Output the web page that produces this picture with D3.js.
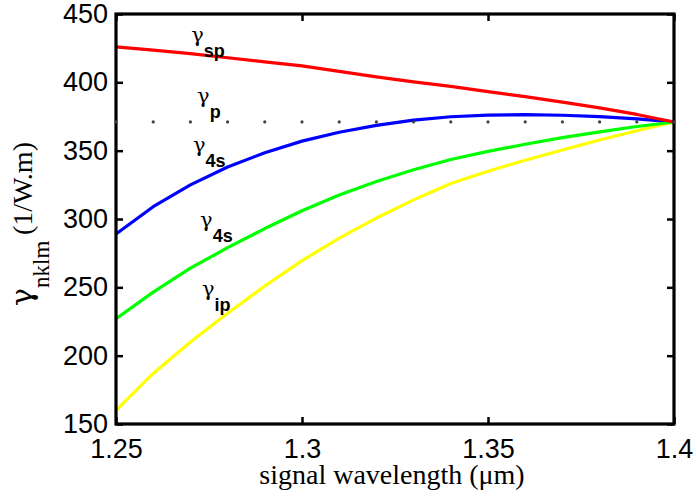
<!DOCTYPE html>
<html>
<head>
<meta charset="utf-8">
<script src="https://cdn.jsdelivr.net/npm/d3@7"></script>
<style>
  html, body { margin: 0; padding: 0; background: #fff; }
  svg { display: block; }
</style>
</head>
<body>
<svg id="chart" width="697" height="498"></svg>
<script>
// ---- data ----
const wavelengths = [1.25, 1.26, 1.27, 1.28, 1.29, 1.30, 1.31, 1.32, 1.33, 1.34, 1.35, 1.36, 1.37, 1.38, 1.39, 1.40];
const gammaSp   = [426, 423.5, 421, 418, 415, 412, 408, 404, 400.3, 397, 393.2, 389.5, 385.5, 381.3, 376.5, 371];
const gamma4sB  = [289, 309, 325, 338, 348.5, 357, 363.5, 368.5, 372.3, 374.8, 376, 376.3, 375.9, 374.9, 373.3, 371];
const gamma4sG  = [227, 246.5, 264, 279, 293, 306, 317.5, 327.5, 336, 343.5, 349.5, 354.7, 359.5, 363.8, 367.7, 371];
const gammaIp   = [160, 187, 210, 231, 251, 269.5, 286, 300.7, 314, 326, 335, 343, 350.5, 357.8, 364.6, 371];
const gammaP    = [371, 371, 371, 371, 371, 371, 371, 371, 371, 371, 371, 371, 371, 371, 371, 371];

const xTicks = [1.25, 1.3, 1.35, 1.4];
const xTickLabels = ["1.25", "1.3", "1.35", "1.4"];
const yTicks = [150, 200, 250, 300, 350, 400, 450];
const yTickLabels = ["150", "200", "250", "300", "350", "400", "450"];

const seriesNames = ["ip", "4s", "4s", "sp"];
const seriesValues = [gammaIp, gamma4sB, gamma4sG, gammaSp];
const seriesColors = ["#ffff00", "#0000ff", "#00ff00", "#ff0000"];

// curve labels: subscript text and anchor (data units)
const labelSubs = ["sp", "p", "4s", "4s", "ip"];
const labelX    = [1.2702, 1.2718, 1.2707, 1.2726, 1.2731];
const labelY    = [429.5, 384.9, 349.0, 294.1, 243.7];

const xLabel = "signal wavelength (\u03bcm)";

// ---- layout ----
const svg = d3.select("#chart");
const L = 116, R = 674, T = 14, B = 424;
const x = d3.scaleLinear().domain([1.25, 1.4]).range([L, R]);
const y = d3.scaleLinear().domain([150, 450]).range([B, T]);

const tickFont = "'Liberation Sans', Arial, Helvetica, sans-serif";
const serif = "'Liberation Serif', 'Times New Roman', Times, serif";
const greek = "'DejaVu Serif', 'Liberation Serif', serif";

// axes
function styleAxis(g) {
  g.select(".domain").remove();
  g.selectAll(".tick line").attr("stroke", "#000").attr("stroke-width", 2.5);
  g.selectAll(".tick text").attr("font-family", tickFont).attr("font-size", 27).attr("fill", "#000");
}
svg.append("g").attr("transform", `translate(0,${B})`)
  .call(d3.axisBottom(x).tickValues(xTicks).tickSize(-7).tickPadding(15)
    .tickFormat((d, i) => xTickLabels[i]))
  .call(styleAxis);
svg.append("g").attr("transform", `translate(0,${T})`)
  .call(d3.axisTop(x).tickValues(xTicks).tickSize(-7).tickFormat(""))
  .call(styleAxis);
svg.append("g").attr("transform", `translate(${L},0)`)
  .call(d3.axisLeft(y).tickValues(yTicks).tickSize(-7).tickPadding(8)
    .tickFormat((d, i) => yTickLabels[i]))
  .call(styleAxis);
svg.append("g").attr("transform", `translate(${R},0)`)
  .call(d3.axisRight(y).tickValues(yTicks).tickSize(-7).tickFormat(""))
  .call(styleAxis);

// lines
const line = d3.line().x((d, i) => x(wavelengths[i])).y(d => y(d));
svg.append("g").selectAll("path").data(seriesValues).join("path")
  .attr("d", d => line(d))
  .attr("fill", "none")
  .attr("stroke", (d, i) => seriesColors[i])
  .attr("stroke-width", 3.2)
  .attr("stroke-linejoin", "round");

// box
svg.append("rect").attr("x", L).attr("y", T).attr("width", R - L).attr("height", B - T)
  .attr("fill", "none").attr("stroke", "#000").attr("stroke-width", 3.2);

// dotted reference (gamma_p)
svg.append("g").selectAll("circle").data(gammaP).join("circle")
  .attr("cx", (d, i) => x(wavelengths[i]))
  .attr("cy", d => y(d))
  .attr("r", 1.6)
  .attr("fill", "#404040");

// curve labels
const lab = svg.append("g").selectAll("text").data(labelSubs).join("text")
  .attr("x", (d, i) => x(labelX[i]))
  .attr("y", (d, i) => y(labelY[i]))
  .attr("fill", "#000");
lab.append("tspan").attr("font-family", greek).attr("font-size", 21).text("\u03b3");
lab.append("tspan").attr("font-family", tickFont).attr("font-weight", "bold")
  .attr("font-size", 18).attr("dy", 15).text(d => d);

// x label
svg.append("text").attr("x", 392).attr("y", 484)
  .attr("text-anchor", "middle")
  .attr("font-family", serif).attr("font-size", 28).attr("fill", "#000")
  .text(xLabel);

// y label
const yl = svg.append("text")
  .attr("transform", "translate(32,224) rotate(-90)")
  .attr("text-anchor", "middle")
  .attr("font-family", serif).attr("fill", "#000");
yl.append("tspan").attr("font-family", greek).attr("font-size", 30).text("\u03b3");
yl.append("tspan").attr("font-size", 23).attr("dy", 17).text("nklm");
yl.append("tspan").attr("font-size", 28).attr("dy", -17).text("\u2009(1/W.m)");
</script>
</body>
</html>
